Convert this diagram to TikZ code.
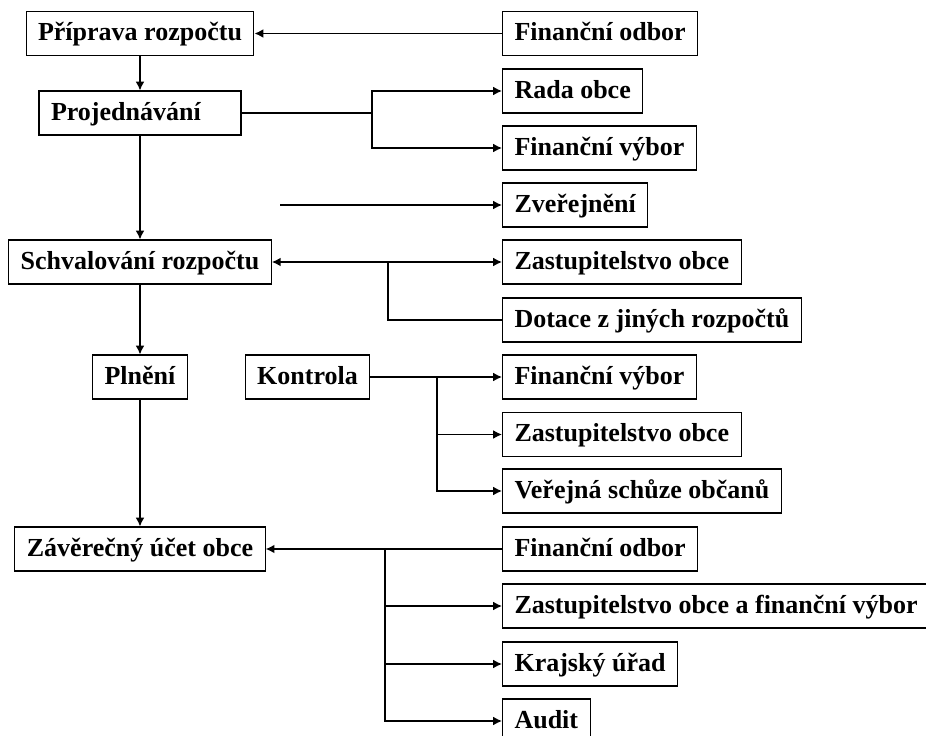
\documentclass[tikz,border=0pt]{standalone}
\usepackage{fontspec}
\setmainfont{Liberation Serif}
\usepackage{tikz}
\usetikzlibrary{arrows.meta, positioning}

\begin{document}
\begin{tikzpicture}[
    box/.style={draw, line width=0.6pt, fill=white, minimum height=0.88cm, inner xsep=0.24cm, inner ysep=0pt, text height=11pt, text depth=3pt, font=\fontsize{14.8}{17}\selectfont\bfseries},
    rbox/.style={box, anchor=west},
    arr/.style={-{Latex[length=5pt,width=5pt]}, line width=0.85pt},
    dblarr/.style={{Latex[length=5pt,width=5pt]}-{Latex[length=5pt,width=5pt]}, line width=0.85pt},
    link/.style={line width=0.85pt}]

    \useasboundingbox (0,0) rectangle (18.52,-14.72);

    % Main stages
    \node[box] (prip) at (2.8,-0.67) {Příprava rozpočtu};
    \node[box, text width=3.56cm, align=left] (proj) at (2.8,-2.26) {Projednávání};
    \node[box] (schval) at (2.8,-5.24) {Schvalování rozpočtu};
    \node[box] (plneni) at (2.8,-7.54) {Plnění};
    \node[box] (kontr) at (6.15,-7.54) {Kontrola};
    \node[box] (zav) at (2.8,-10.98) {Závěrečný účet obce};

    % Participants
    \node[rbox] (fo1) at (10.04,-0.67) {Finanční odbor};
    \node[rbox] (rada) at (10.04,-1.82) {Rada obce};
    \node[rbox] (fv1) at (10.04,-2.96) {Finanční výbor};
    \node[rbox] (zver) at (10.04,-4.10) {Zveřejnění};
    \node[rbox] (zast1) at (10.04,-5.24) {Zastupitelstvo obce};
    \node[rbox] (dot) at (10.04,-6.40) {Dotace z jiných rozpočtů};
    \node[rbox] (fv2) at (10.04,-7.54) {Finanční výbor};
    \node[rbox] (zast2) at (10.04,-8.69) {Zastupitelstvo obce};
    \node[rbox] (ver) at (10.04,-9.82) {Veřejná schůze občanů};
    \node[rbox] (fo3) at (10.04,-10.98) {Finanční odbor};
    \node[rbox] (zafv) at (10.04,-12.12) {Zastupitelstvo obce a finanční výbor};
    \node[rbox] (kraj) at (10.04,-13.28) {Krajský úřad};
    \node[rbox] (audit) at (10.04,-14.42) {Audit};

    % Branch points
    \coordinate (projbr) at (7.44,-2.26);
    \coordinate (schvbr) at (7.76,-5.24);
    \coordinate (kontbr) at (8.74,-7.54);
    \coordinate (zavbr) at (7.70,-10.98);
    \coordinate (zverin) at (5.6,-4.10);

    % Main flow
    \draw[arr] (prip) -- (proj);
    \draw[arr] (proj) -- (schval);
    \draw[arr] (schval) -- (plneni);
    \draw[arr] (plneni) -- (zav);

    % Arrows to and from participants
    \draw[arr] (fo1) -- (prip);
    \draw[link] (proj) -- (projbr);
    \draw[arr] (projbr) |- (rada);
    \draw[arr] (projbr) |- (fv1);
    \draw[arr] (zverin) -- (zver);
    \draw[dblarr] (schval) -- (zast1);
    \draw[link] (schvbr) |- (dot);
    \draw[arr] (kontr) -- (fv2);
    \draw[arr] (kontbr) |- (zast2);
    \draw[arr] (kontbr) |- (ver);
    \draw[arr] (fo3) -- (zav);
    \draw[arr] (zavbr) |- (zafv);
    \draw[arr] (zavbr) |- (kraj);
    \draw[arr] (zavbr) |- (audit);
\end{tikzpicture}
\end{document}
